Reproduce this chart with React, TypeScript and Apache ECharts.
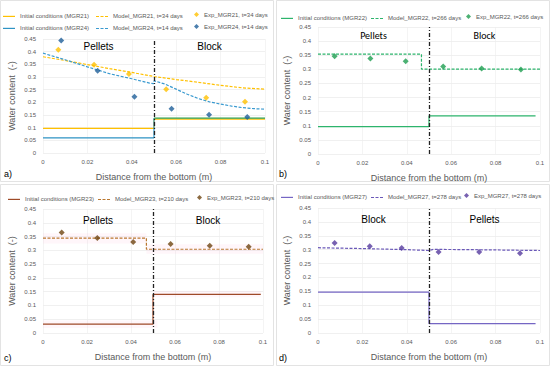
import React, { useEffect, useRef } from "react";
import * as echarts from "echarts";

// ---- Panel a ----
const initA21: number[][] = [[0, 0.097], [0.05, 0.097], [0.05, 0.134], [0.1, 0.134]];
const initA24: number[][] = [[0, 0.06], [0.05, 0.06], [0.05, 0.138]];
const initA24Block: number[][] = [[0.05, 0.138], [0.1, 0.138]];
const modelA21: number[][] = [[0, 0.38], [0.01, 0.365], [0.02, 0.349], [0.03, 0.333], [0.04, 0.318], [0.05, 0.302], [0.06, 0.29], [0.07, 0.279], [0.08, 0.267], [0.09, 0.257], [0.1, 0.252]];
const modelA24: number[][] = [[0, 0.394], [0.01, 0.368], [0.02, 0.34], [0.03, 0.313], [0.04, 0.293], [0.048, 0.276], [0.05, 0.274], [0.05, 0.285], [0.055, 0.272], [0.06, 0.252], [0.065, 0.232], [0.07, 0.215], [0.075, 0.202], [0.08, 0.193], [0.085, 0.185], [0.09, 0.179], [0.095, 0.175], [0.1, 0.173]];
const expA21: number[][] = [[0.0069, 0.408], [0.023, 0.348], [0.0387, 0.312], [0.0555, 0.252], [0.0735, 0.218], [0.091, 0.202]];
const expA24: number[][] = [[0.0082, 0.444], [0.0246, 0.325], [0.0412, 0.222], [0.0579, 0.175], [0.0748, 0.151], [0.092, 0.142]];

// ---- Panel b ----
const initB: number[][] = [[0, 0.097], [0.05, 0.097], [0.05, 0.135], [0.098, 0.135]];
const modelB: number[][] = [[0, 0.354], [0.0466, 0.354], [0.0466, 0.301], [0.1, 0.301]];
const expB: number[][] = [[0.0075, 0.346], [0.0236, 0.338], [0.0395, 0.329], [0.0564, 0.31], [0.0737, 0.303], [0.0914, 0.299]];

// ---- Panel c ----
const initC: number[][] = [[0, 0.032], [0.05, 0.032], [0.05, 0.14], [0.099, 0.14]];
const modelC: number[][] = [[0, 0.344], [0.047, 0.344], [0.047, 0.304], [0.1, 0.304]];
const expC: number[][] = [[0.0085, 0.365], [0.0247, 0.345], [0.041, 0.33], [0.058, 0.323], [0.0758, 0.317], [0.0935, 0.313]];
// faint pink highlight bands seen in panel c: [x0, y0, x1, y1]
const bandsC: number[][] = [[0, 0.325, 0.047, 0.362], [0.047, 0.288, 0.1, 0.322], [0.05, 0.13, 0.099, 0.152], [0, 0.018, 0.052, 0.045]];

// ---- Panel d ----
const initD: number[][] = [[0, 0.147], [0.05, 0.147], [0.05, 0.034], [0.098, 0.034]];
const modelD: number[][] = [[0, 0.307], [0.02, 0.304], [0.04, 0.3], [0.05, 0.297], [0.052, 0.301], [0.07, 0.3], [0.1, 0.297]];
const expD: number[][] = [[0.0075, 0.324], [0.0233, 0.312], [0.0377, 0.306], [0.0543, 0.292], [0.0726, 0.292], [0.091, 0.287]];

const interfaceX = 0.05;
const regionLabels = [
  [["Pellets", 0.025], ["Block", 0.075]],
  [["Pellets", 0.025], ["Block", 0.075]],
  [["Pellets", 0.025], ["Block", 0.075]],
  [["Block", 0.025], ["Pellets", 0.075]],
];
const labelY = [0.42, 0.42, 0.41, 0.41];
const panelTags = ["a)", "b)", "c)", "d)"];

const FONT = "Liberation Sans, Arial, sans-serif";

const DASH_ICON = "path://M0,0h3v1h-3zM4.5,0h3v1h-3zM9,0h3v1h-3z";

// legend items: [name, kind, iconLeft, centerY]
const legendItems: [string, string, number, number][] = [
  ["Initial conditions (MGR21)", "solid", 3, 14],
  ["Model_MGR21, t=34 days", "dash", 96, 14],
  ["Exp_MGR21, t=34 days", "diamond", 194, 14],
  ["Initial conditions (MGR24)", "solid", 3, 26],
  ["Model_MGR24, t=14 days", "dash", 96, 26],
  ["Exp_MGR24, t=14 days", "diamond", 194, 26],
  ["Initial conditions (MGR22)", "solid", 281, 16],
  ["Model_MGR22, t=266 days", "dash", 371, 16],
  ["Exp_MGR22, t=266 days", "diamond", 466, 16],
  ["Initial conditions (MGR23)", "solid", 8, 197],
  ["Model_MGR23, t=210 days", "dash", 98, 197],
  ["Exp_MGR23, t=210 days", "diamond", 197, 197],
  ["Initial conditions (MGR27)", "solid", 281, 195],
  ["Model_MGR27, t=278 days", "dash", 371, 195],
  ["Exp_MGR27, t=278 days", "diamond", 464, 195],
];

export default function App() {
  const ref = useRef<HTMLDivElement>(null);
  useEffect(() => {
    if (!ref.current) return;
    const chart = echarts.init(ref.current, null, { renderer: "svg" });
    const grids = [
      { left: 43, top: 39, width: 222, height: 114 },
      { left: 318, top: 27, width: 222, height: 127 },
      { left: 43, top: 209, width: 220, height: 124 },
      { left: 318, top: 208, width: 222, height: 125 },
    ];
    const xAxes = grids.map((_, i) => ({
      type: "value",
      gridIndex: i,
      min: 0,
      max: 0.1,
      interval: 0.02,
      name: "Distance from the bottom (m)",
      nameLocation: "middle",
      nameGap: 19,
      nameTextStyle: { fontFamily: FONT, fontSize: 9, color: "#595959" },
      axisLine: { show: false },
      axisTick: { show: false },
      axisLabel: { fontFamily: FONT, fontSize: 6, color: "#595959", margin: 6 },
      splitLine: { show: true, lineStyle: { color: "#ececec", width: 0.6 } },
    }));
    const yAxes = grids.map((_, i) => ({
      type: "value",
      gridIndex: i,
      min: 0,
      max: 0.45,
      interval: 0.05,
      name: "Water content  (-)",
      nameLocation: "middle",
      nameGap: 27,
      nameTextStyle: { fontFamily: FONT, fontSize: 9, color: "#595959" },
      axisLine: { show: false },
      axisTick: { show: false },
      axisLabel: { fontFamily: FONT, fontSize: 6, color: "#595959", margin: 7 },
      splitLine: { show: true, lineStyle: { color: "#e6e6e6", width: 0.6 } },
    }));

    const lineS = (name: string, data: number[][], color: string, idx: number, dashed: boolean, width = 1.2) => ({
      type: "line",
      name,
      data,
      xAxisIndex: idx,
      yAxisIndex: idx,
      symbol: "none",
      lineStyle: { color, width, type: dashed ? [3, 1.5] : "solid" },
      itemStyle: { color },
      z: 3,
    });
    const scatS = (name: string, data: number[][], color: string, idx: number) => ({
      type: "scatter",
      name,
      data,
      xAxisIndex: idx,
      yAxisIndex: idx,
      symbol: "diamond",
      symbolSize: 6,
      itemStyle: { color },
      z: 5,
    });
    const annot = (idx: number) => ({
      type: "line",
      name: "annot" + idx,
      data: [],
      xAxisIndex: idx,
      yAxisIndex: idx,
      markLine: {
        silent: true,
        symbol: "none",
        label: { show: false },
        lineStyle: { color: "#222", width: 1.3, type: [4, 2, 1, 2] },
        data: [{ xAxis: interfaceX }],
      },
      markPoint: {
        silent: true,
        symbol: "circle",
        symbolSize: 0,
        label: {
          show: true,
          position: "inside",
          fontFamily: idx === 1 ? "Carlito, Liberation Sans, Arial" : FONT,
          fontSize: 10,
          color: "#000",
          formatter: (p: any) => p.name,
        },
        data: regionLabels[idx].map((r: any) => ({ name: r[0], coord: [r[1], labelY[idx]] })),
      },
      markArea:
        idx === 2
          ? {
              silent: true,
              itemStyle: { color: "rgba(255,170,210,0.1)" },
              data: bandsC.map((b) => [{ coord: [b[0], b[1]] }, { coord: [b[2], b[3]] }]),
            }
          : undefined,
      z: 6,
    });

    const series: any[] = [
      lineS("Initial conditions (MGR21)", initA21, "#FFC000", 0, false),
      lineS("Initial conditions (MGR24)", initA24, "#2E93C4", 0, false),
      { ...lineS("blockA", initA24Block, "#2E9E4F", 0, false), z: 4 },
      lineS("Model_MGR21, t=34 days", modelA21, "#FFC000", 0, true),
      lineS("Model_MGR24, t=14 days", modelA24, "#3A9AD0", 0, true),
      scatS("Exp_MGR21, t=34 days", expA21, "#FFC000", 0),
      scatS("Exp_MGR24, t=14 days", expA24, "#1F5F99", 0),
      annot(0),
      lineS("Initial conditions (MGR22)", initB, "#2DB46C", 1, false),
      lineS("Model_MGR22, t=266 days", modelB, "#2DB46C", 1, true),
      scatS("Exp_MGR22, t=266 days", expB, "#1E9E50", 1),
      annot(1),
      lineS("Initial conditions (MGR23)", initC, "#9E4A28", 2, false),
      lineS("Model_MGR23, t=210 days", modelC, "#B9772F", 2, true),
      scatS("Exp_MGR23, t=210 days", expC, "#6E4510", 2),
      annot(2),
      lineS("Initial conditions (MGR27)", initD, "#7566C4", 3, false),
      lineS("Model_MGR27, t=278 days", modelD, "#6A58B8", 3, true),
      scatS("Exp_MGR27, t=278 days", expD, "#55399E", 3),
      annot(3),
    ];

    const legends = legendItems.map(([name, kind, x, cy]) => {
      const isDia = kind === "diamond";
      const h = isDia ? 5 : 1.2;
      return {
        left: x,
        top: cy - h / 2,
        padding: 0,
        selectedMode: false,
        itemWidth: isDia ? 5 : 12,
        itemHeight: h,
        itemGap: 0,
        textStyle: { fontFamily: FONT, fontSize: 6, color: "#595959" },
        data: [{ name, icon: isDia ? "diamond" : kind === "dash" ? DASH_ICON : "rect" }],
      };
    });

    chart.setOption({
      animation: false,
      backgroundColor: "#fff",
      grid: grids,
      xAxis: xAxes,
      yAxis: yAxes,
      legend: legends,
      graphic: [
        { type: "rect", shape: { x: 0.5, y: 0.5, width: 273, height: 181 }, style: { fill: "none", stroke: "#e3e3e3", lineWidth: 1 } },
        { type: "rect", shape: { x: 276.5, y: 0.5, width: 273, height: 181 }, style: { fill: "none", stroke: "#e3e3e3", lineWidth: 1 } },
        { type: "rect", shape: { x: 0.5, y: 184.5, width: 273, height: 181 }, style: { fill: "none", stroke: "#e3e3e3", lineWidth: 1 } },
        { type: "rect", shape: { x: 276.5, y: 184.5, width: 273, height: 181 }, style: { fill: "none", stroke: "#e3e3e3", lineWidth: 1 } },
        ...panelTags.map((t, i) => ({
          type: "text",
          left: i % 2 === 0 ? 4 : 279,
          top: i < 2 ? 169 : 353,
          style: { text: t, fontFamily: FONT, fontSize: 9, fill: "#000" },
        })),
      ],
      series,
    });
    return () => chart.dispose();
  }, []);
  return <div ref={ref} style={{ position: "fixed", left: 0, top: 0, width: 550, height: 366 }} />;
}
